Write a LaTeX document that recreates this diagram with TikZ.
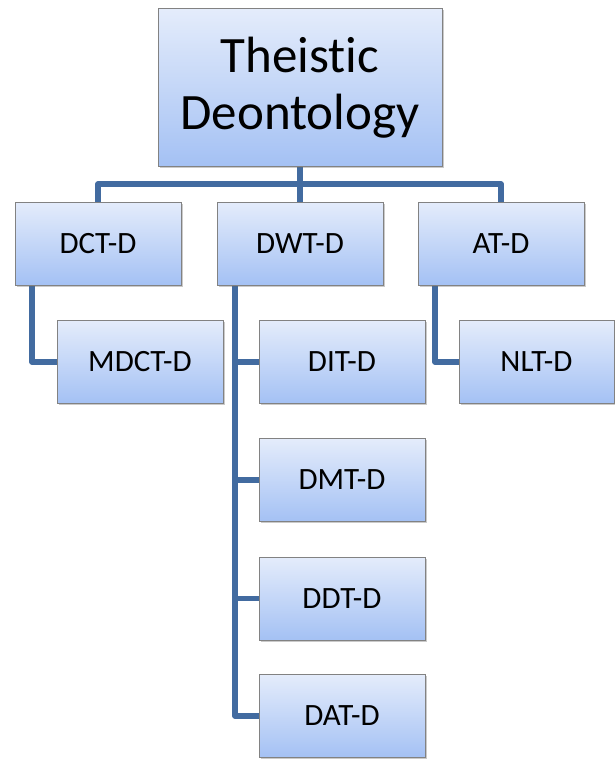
\documentclass[tikz,border=0pt]{standalone}
\usepackage{fontspec}
\setmainfont[Ligatures=NoCommon]{Carlito}
\usetikzlibrary{shadows,backgrounds}
\definecolor{linkblue}{RGB}{66,107,160}
\definecolor{boxtop}{RGB}{228,236,251}
\definecolor{boxbot}{RGB}{164,193,244}
\definecolor{boxedge}{RGB}{130,130,130}
\tikzset{
  box/.style={draw=boxedge, line width=1pt, top color=boxtop, bottom color=boxbot,
    minimum width=166pt, minimum height=83pt, inner sep=0pt,
    font=\fontsize{31}{36}\selectfont,
    drop shadow={shadow xshift=1.5pt, shadow yshift=-1.5pt, opacity=0.35, fill=black!60}},
  bigbox/.style={box, minimum width=284pt, minimum height=157pt, align=center,
    font=\fontsize{51}{57}\selectfont},
  link/.style={draw=linkblue, line width=5.5pt, line join=round}
}
\begin{document}
\begin{tikzpicture}[x=1pt,y=-1pt]
\useasboundingbox (0,0) rectangle (615,760);
\node[bigbox] (root) at (300,87.5) {Theistic\\Deontology};
\node[box] (dct) at (98,243.5) {DCT-D};
\node[box] (dwt) at (300,243.5) {DWT-D};
\node[box] (at) at (501,243.5) {AT-D};
\node[box] (mdct) at (140,362) {MDCT-D};
\node[box] (dit) at (342,362) {DIT-D};
\node[box] (dmt) at (342,480) {DMT-D};
\node[box] (ddt) at (342,598.5) {DDT-D};
\node[box] (dat) at (342,716) {DAT-D};
\node[box, minimum width=155pt] (nlt) at (536.5,362) {NLT-D};
\coordinate (bus) at (300,184);
\coordinate (ldct) at (32,0);
\coordinate (ldwt) at (235,0);
\coordinate (lat) at (435,0);
\begin{scope}[on background layer]
\draw[link] (root.south) -- (bus);
\draw[link] (dct.north) |- (bus) -| (at.north);
\draw[link] (bus) -- (dwt.north);
\draw[link] (dct.south -| ldct) |- (mdct.west);
\draw[link] (at.south -| lat) |- (nlt.west);
\draw[link] (dwt.south -| ldwt) |- (dat.west);
\draw[link] (dit.west -| ldwt) -- (dit.west);
\draw[link] (dmt.west -| ldwt) -- (dmt.west);
\draw[link] (ddt.west -| ldwt) -- (ddt.west);
\end{scope}
\end{tikzpicture}
\end{document}
